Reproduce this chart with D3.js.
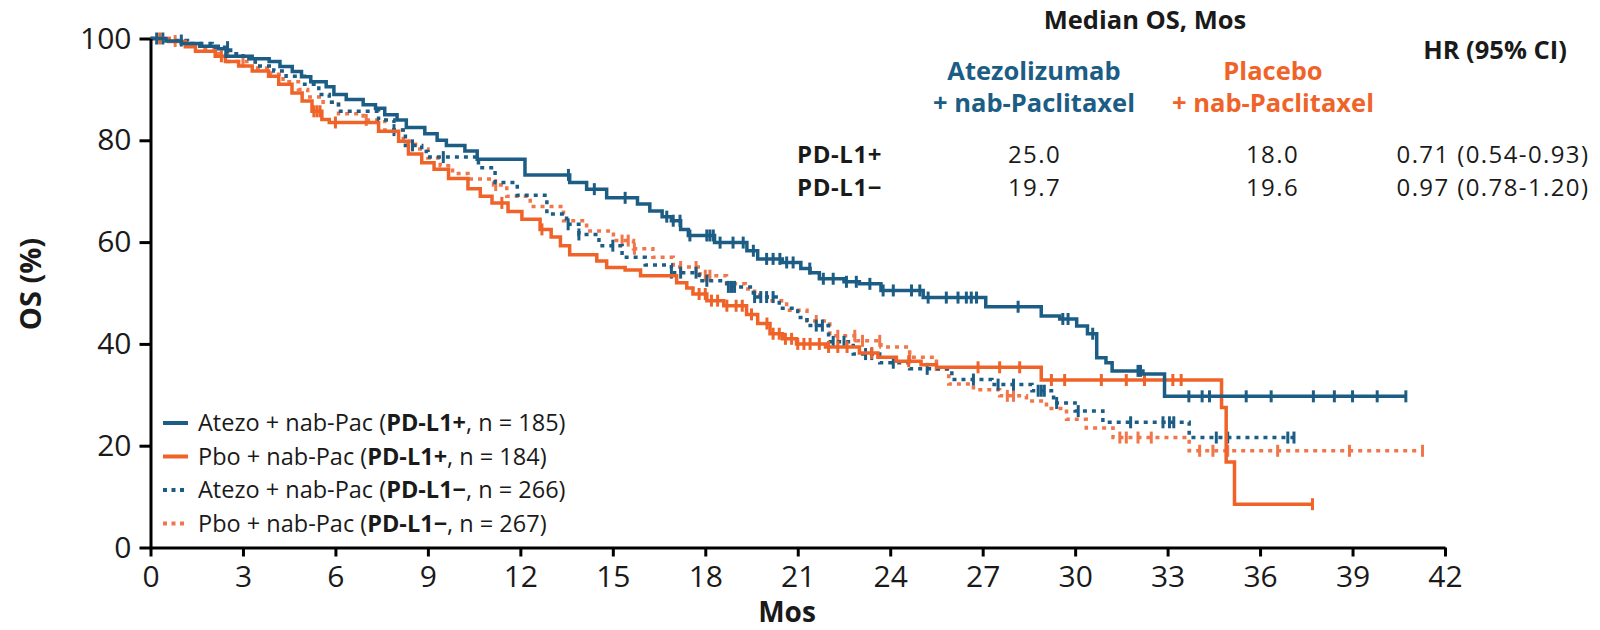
<!DOCTYPE html>
<html>
<head>
<meta charset="utf-8">
<script src="https://cdn.jsdelivr.net/npm/d3@7"></script>
<style>
  body { margin: 0; background: #fff; }
  svg { display: block; }
  text { font-family: 'Open Sans', sans-serif; fill: #1a1a1a; }
</style>
</head>
<body>
<svg id="chart" width="1600" height="630"></svg>
<script>
// ---- axis ticks ----
const monthTicks = [0, 3, 6, 9, 12, 15, 18, 21, 24, 27, 30, 33, 36, 39, 42];
const osTicks = [0, 20, 40, 60, 80, 100];

// ---- Kaplan-Meier steps: [month, OS %] from that month onward ----
const atezoPosSteps = [[0,100],[0.5,99.5],[1.0,99.0],[1.6,98.5],[2.2,98.0],[2.45,96.5],[3.3,96.0],[3.85,95.5],[4.2,94.5],[4.6,93.5],[4.9,92.5],[5.2,91.5],[5.7,90.5],[5.95,89.0],[6.35,88.0],[6.9,87.0],[7.3,86.3],[7.6,85.0],[8.0,84.0],[8.3,82.5],[8.9,81.3],[9.3,80.0],[9.6,79.0],[10.2,77.9],[10.6,76.3],[12.15,73.2],[13.6,71.7],[14.15,70.4],[14.8,68.7],[15.8,67.5],[16.2,66.1],[16.6,65.0],[16.9,64.2],[17.2,62.5],[17.45,61.3],[18.3,59.9],[19.35,58.3],[19.7,56.7],[20.5,56.0],[21.1,54.8],[21.4,54.0],[21.7,52.8],[22.5,52.2],[23.0,51.8],[23.7,50.5],[25.07,49.1],[27.1,47.3],[28.9,45.5],[29.5,44.9],[30.05,43.5],[30.4,42.0],[30.7,37.3],[31.0,36.3],[31.2,34.7],[32.2,34.1],[32.9,29.7]];
const atezoPosEnd = 40.75;
const atezoPosCensor = [0.2,13.56,14.4,15.4,16.75,16.96,17.18,17.5,18.05,18.15,18.26,18.48,18.9,19.23,19.56,19.99,20.2,20.42,20.64,20.85,21.39,21.83,22.15,22.58,22.9,23.34,23.77,24.1,24.69,24.96,25.23,25.82,26.2,26.47,26.63,26.8,28.15,29.6,29.77,30.57,32.04,32.12,33.69,34.12,34.36,35.55,36.36,37.73,38.41,39.0,39.8,40.73];

const pboPosSteps = [[0,100],[0.6,99.4],[1.13,98.4],[1.46,97.5],[2.1,96.5],[2.43,95.5],[2.86,94.6],[3.3,93.6],[3.83,92.6],[4.16,91.0],[4.59,89.3],[4.92,87.7],[5.24,85.7],[5.56,84.1],[5.8,83.5],[7.4,81.8],[8.05,79.8],[8.37,77.3],[8.8,75.6],[9.2,74.3],[9.67,72.5],[10.3,70.5],[10.7,69.0],[11.08,67.7],[11.6,66.0],[12.05,64.5],[12.64,62.5],[13.0,61.0],[13.3,59.3],[13.6,57.5],[14.48,56.3],[14.8,55.0],[15.4,54.5],[15.9,53.4],[17.07,52.0],[17.4,51.0],[17.6,49.8],[18.05,48.5],[18.6,47.5],[19.34,45.8],[19.7,44.0],[20.1,42.0],[20.5,41.0],[20.96,40.0],[21.9,39.4],[23.0,38.2],[23.6,37.4],[24.2,36.6],[25.0,35.9],[25.5,35.4],[28.9,32.9],[34.75,27.5],[34.9,16.8],[35.17,8.5]];
const pboPosEnd = 37.7;
const pboPosCensor = [0.3,2.3,5.3,5.4,5.5,6.0,11.4,12.7,17.8,18.0,18.2,18.4,18.7,19.0,19.2,19.5,20.0,20.2,20.4,20.6,20.8,21.0,21.2,21.4,21.7,22.0,22.3,22.6,23.4,24.6,26.85,27.55,28.2,29.23,29.66,30.85,31.66,32.25,33.17,33.44,37.7];

const atezoNegSteps = [[0,100],[0.5,99.6],[1.2,99.0],[2.0,98.3],[2.6,97.0],[3.0,96.0],[3.4,94.6],[4.0,93.6],[4.4,92.6],[5.0,91.0],[5.46,89.0],[5.8,87.5],[6.1,85.7],[7.4,84.0],[7.9,82.0],[8.27,79.0],[8.8,77.8],[9.0,76.7],[10.64,74.6],[11.18,71.7],[11.9,69.2],[12.86,65.5],[13.5,63.5],[13.9,61.5],[14.55,59.3],[15.3,57.0],[16.05,55.5],[16.9,54.0],[17.8,52.4],[18.7,51.2],[19.56,49.2],[20.4,47.0],[21.0,45.2],[21.3,43.6],[22.0,40.4],[22.8,38.0],[23.66,36.3],[24.63,35.1],[26.0,33.0],[27.3,32.0],[28.6,30.8],[29.3,28.4],[30.0,26.8],[30.9,24.6],[33.7,21.6]];
const atezoNegEnd = 37.17;
const atezoNegCensor = [0.4,1.0,2.5,7.9,8.5,9.5,13.55,13.9,15.0,16.9,17.2,17.7,18.05,18.75,18.85,18.95,19.6,19.8,19.99,20.2,21.6,21.8,22.15,22.5,23.2,23.4,24.1,25.2,26.7,27.5,28.0,28.8,28.9,29.0,29.4,30.1,31.8,32.85,33.06,33.2,34.58,34.95,36.9,37.1];

const pboNegSteps = [[0,100],[0.6,99.5],[1.1,98.8],[1.7,98.0],[2.2,96.8],[2.5,95.5],[3.4,94.2],[3.9,93.0],[4.3,91.5],[4.8,90.0],[5.1,88.5],[5.6,87.5],[6.1,85.2],[6.9,84.0],[7.6,82.0],[8.2,79.8],[8.6,78.3],[9.0,76.5],[9.4,75.0],[9.8,73.5],[10.3,72.4],[11.13,71.2],[11.56,69.0],[12.32,67.0],[13.4,64.2],[14.15,62.2],[15.02,60.3],[15.67,58.7],[16.3,57.0],[16.96,55.1],[17.83,53.4],[18.69,51.8],[19.3,50.8],[19.6,49.6],[20.0,48.5],[20.64,46.6],[21.3,44.5],[22.04,41.6],[22.9,40.6],[23.7,39.4],[24.63,37.4],[25.5,35.0],[25.9,32.1],[26.7,31.0],[27.55,29.8],[28.42,28.8],[29.07,27.3],[29.72,25.2],[30.36,23.5],[31.23,21.6],[33.7,19.0]];
const pboNegEnd = 41.27;
const pboNegCensor = [0.8,3.0,7.0,11.2,15.3,15.5,15.7,17.2,17.7,18.0,18.15,21.6,22.3,22.85,23.1,23.66,24.63,27.8,28.0,31.45,31.66,32.04,32.47,34.04,34.47,34.95,36.57,38.9,41.27];

// ---- legend and summary table text ----
const legendArms = ["Atezo + nab-Pac (", "Pbo + nab-Pac (", "Atezo + nab-Pac (", "Pbo + nab-Pac ("];
const legendGroups = ["PD-L1+", "PD-L1+", "PD-L1\u2212", "PD-L1\u2212"];
const legendN = [", n = 185)", ", n = 184)", ", n = 266)", ", n = 267)"];
const tableRows = ["PD-L1+", "PD-L1\u2212"];
const medianAtezo = ["25.0", "19.7"];
const medianPbo = ["18.0", "19.6"];
const hazardRatios = ["0.71 (0.54-0.93)", "0.97 (0.78-1.20)"];

const BLUE = "#1c5d86";
const ORANGE = "#ef6329";
const ORANGE_LIGHT = "#f17649";

const series = [
  { steps: atezoPosSteps, end: atezoPosEnd, censor: atezoPosCensor, color: BLUE, dotted: false },
  { steps: pboPosSteps, end: pboPosEnd, censor: pboPosCensor, color: ORANGE, dotted: false },
  { steps: atezoNegSteps, end: atezoNegEnd, censor: atezoNegCensor, color: BLUE, dotted: true },
  { steps: pboNegSteps, end: pboNegEnd, censor: pboNegCensor, color: ORANGE_LIGHT, dotted: true }
];

const svg = d3.select("#chart");
const x = d3.scaleLinear().domain([0, 42]).range([150.5, 1445]);
const y = d3.scaleLinear().domain([0, 100]).range([547.5, 38.5]);

// survival value of a step function at month t
function survivalAt(steps, t) {
  let s = steps[0][1];
  for (const [tt, ss] of steps) { if (tt <= t) s = ss; else break; }
  return s;
}

// ---- curves (dotted drawn first, solid on top) ----
const stepLine = d3.line().x(d => x(d[0])).y(d => y(d[1])).curve(d3.curveStepAfter);
const drawOrder = [series[3], series[2], series[1], series[0]];
drawOrder.forEach(sr => {
  const pts = sr.steps.concat([[sr.end, sr.steps[sr.steps.length - 1][1]]]);
  svg.append("path")
    .attr("d", stepLine(pts))
    .attr("fill", "none")
    .attr("stroke", sr.color)
    .attr("stroke-width", 3.5)
    .attr("stroke-dasharray", sr.dotted ? "4 5" : null);
  svg.append("g").selectAll("line")
    .data(sr.censor)
    .join("line")
    .attr("x1", d => x(d)).attr("x2", d => x(d))
    .attr("y1", d => y(survivalAt(sr.steps, d)) - 6)
    .attr("y2", d => y(survivalAt(sr.steps, d)) + 6)
    .attr("stroke", sr.color)
    .attr("stroke-width", 3);
});

// ---- axes ----
const xAxis = svg.append("g")
  .attr("transform", `translate(0,${y(0)})`)
  .call(d3.axisBottom(x).tickValues(monthTicks).tickSize(9).tickSizeOuter(0).tickPadding(9));
const yAxis = svg.append("g")
  .attr("transform", `translate(${x(0)},0)`)
  .call(d3.axisLeft(y).tickValues(osTicks).tickSize(11).tickSizeOuter(0).tickPadding(8));
[xAxis, yAxis].forEach(a => {
  a.select(".domain").attr("stroke", "#000").attr("stroke-width", 3);
  a.selectAll(".tick line").attr("stroke", "#000").attr("stroke-width", 3);
  a.selectAll(".tick text")
    .attr("font-family", "'Open Sans', sans-serif")
    .attr("font-size", 30)
    .attr("fill", "#1a1a1a");
});

svg.append("text")
  .attr("x", 787).attr("y", 622)
  .attr("text-anchor", "middle")
  .attr("font-size", 28).attr("font-weight", 700)
  .text("Mos");
svg.append("text")
  .attr("transform", "translate(41,284) rotate(-90)")
  .attr("text-anchor", "middle")
  .attr("font-size", 29).attr("font-weight", 700)
  .text("OS (%)");

// ---- legend ----
const legend = svg.append("g");
legendArms.forEach((arm, i) => {
  const yy = 423 + i * 33.5;
  const sr = series[i];
  legend.append("line")
    .attr("x1", 163).attr("x2", 188)
    .attr("y1", yy).attr("y2", yy)
    .attr("stroke", sr.color)
    .attr("stroke-width", 4)
    .attr("stroke-dasharray", sr.dotted ? "4 4.5" : null);
  const t = legend.append("text")
    .attr("x", 198).attr("y", yy)
    .attr("dy", "0.36em")
    .attr("font-size", 23.5);
  t.append("tspan").text(arm);
  t.append("tspan").attr("font-weight", 700).text(legendGroups[i]);
  t.append("tspan").text(legendN[i]);
});

// ---- median OS / HR table ----
const table = svg.append("g");
const headSize = 25.5;
table.append("text").attr("x", 1145).attr("y", 29).attr("text-anchor", "middle")
  .attr("font-size", headSize).attr("font-weight", 700).text("Median OS, Mos");
table.append("text").attr("x", 1495).attr("y", 59).attr("text-anchor", "middle")
  .attr("font-size", headSize).attr("font-weight", 700).text("HR (95% CI)");
table.append("text").attr("x", 1034).attr("y", 80).attr("text-anchor", "middle")
  .attr("font-size", headSize).attr("font-weight", 700).style("fill", BLUE).text("Atezolizumab");
table.append("text").attr("x", 1034).attr("y", 112).attr("text-anchor", "middle")
  .attr("font-size", headSize).attr("font-weight", 700).style("fill", BLUE).text("+ nab-Paclitaxel");
table.append("text").attr("x", 1273).attr("y", 80).attr("text-anchor", "middle")
  .attr("font-size", headSize).attr("font-weight", 700).style("fill", ORANGE).text("Placebo");
table.append("text").attr("x", 1273).attr("y", 112).attr("text-anchor", "middle")
  .attr("font-size", headSize).attr("font-weight", 700).style("fill", ORANGE).text("+ nab-Paclitaxel");

tableRows.forEach((row, i) => {
  const yy = 163 + i * 33;
  table.append("text").attr("x", 797).attr("y", yy)
    .attr("font-size", 24).attr("font-weight", 700).attr("letter-spacing", 0.6).text(row);
  [[1034.5, medianAtezo[i]], [1272.5, medianPbo[i]], [1493, hazardRatios[i]]].forEach(([cx, label]) => {
    table.append("text").attr("x", cx).attr("y", yy).attr("text-anchor", "middle")
      .attr("font-size", 24).attr("letter-spacing", 1.4).text(label);
  });
});
</script>
</body>
</html>
